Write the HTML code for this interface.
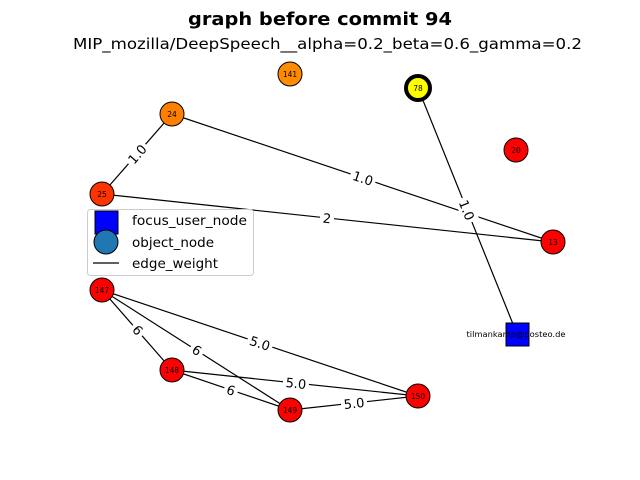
<!DOCTYPE html>
<html><head><style>body{margin:0;background:#fff}svg{display:block}</style></head><body>
<svg width="640" height="480" xmlns="http://www.w3.org/2000/svg" font-family="DejaVu Sans, Liberation Sans, sans-serif">
<text x="320" y="25" text-anchor="middle" font-size="18" font-weight="bold" textLength="264" lengthAdjust="spacingAndGlyphs">graph before commit 94</text>
<text x="327.5" y="49" text-anchor="middle" font-size="15.5" textLength="509" lengthAdjust="spacingAndGlyphs">MIP_mozilla/DeepSpeech__alpha=0.2_beta=0.6_gamma=0.2</text>
<g stroke="#000" stroke-width="1.2">
<line x1="172" y1="114" x2="102" y2="194"/>
<line x1="172" y1="114" x2="553" y2="242"/>
<line x1="102" y1="194" x2="553" y2="242"/>
<line x1="418" y1="88" x2="517" y2="334"/>
<line x1="102" y1="290" x2="418" y2="396"/>
<line x1="102" y1="290" x2="172" y2="370"/>
<line x1="102" y1="290" x2="290" y2="410"/>
<line x1="172" y1="370" x2="418" y2="396"/>
<line x1="172" y1="370" x2="290" y2="410"/>
<line x1="290" y1="410" x2="418" y2="396"/>
</g>
<g font-size="13" text-anchor="middle">
<g transform="translate(137,154) rotate(-48.8)"><rect x="-13" y="-8" width="26" height="16" fill="#fff"/><text y="5">1.0</text></g>
<g transform="translate(363,178) rotate(18.6)"><rect x="-13" y="-8" width="26" height="16" fill="#fff"/><text y="5">1.0</text></g>
<g transform="translate(327,218) rotate(6.1)"><rect x="-7" y="-8" width="14" height="16" fill="#fff"/><text y="5">2</text></g>
<g transform="translate(467,210) rotate(68)"><rect x="-13" y="-8" width="26" height="16" fill="#fff"/><text y="5">1.0</text></g>
<g transform="translate(260,343) rotate(18.5)"><rect x="-13" y="-8" width="26" height="16" fill="#fff"/><text y="5">5.0</text></g>
<g transform="translate(138,330) rotate(48.8)"><rect x="-7" y="-8" width="14" height="16" fill="#fff"/><text y="5">6</text></g>
<g transform="translate(197,350) rotate(32.5)"><rect x="-7" y="-8" width="14" height="16" fill="#fff"/><text y="5">6</text></g>
<g transform="translate(296,383) rotate(6)"><rect x="-13" y="-8" width="26" height="16" fill="#fff"/><text y="5">5.0</text></g>
<g transform="translate(231,390) rotate(18.7)"><rect x="-7" y="-8" width="14" height="16" fill="#fff"/><text y="5">6</text></g>
<g transform="translate(354,403) rotate(-6.2)"><rect x="-13" y="-8" width="26" height="16" fill="#fff"/><text y="5">5.0</text></g>
</g>
<g stroke="#000" stroke-width="1">
<circle cx="290" cy="74" r="12" fill="#ff8c00"/>
<circle cx="418" cy="88" r="12" fill="#ffff00" stroke-width="4"/>
<circle cx="172" cy="114" r="12" fill="#ff8000"/>
<circle cx="516" cy="150" r="12" fill="#ff0000"/>
<circle cx="102" cy="194" r="12" fill="#ff3300"/>
<circle cx="553" cy="242" r="12" fill="#ff0000"/>
<circle cx="102" cy="290" r="12" fill="#ff0000"/>
<circle cx="172" cy="370" r="12" fill="#ff0000"/>
<circle cx="290" cy="410" r="12" fill="#ff0000"/>
<circle cx="418" cy="396" r="12" fill="#ff0000"/>
<rect x="506" y="323" width="23" height="23" fill="#0000ff"/>
</g>
<g font-size="7.5" text-anchor="middle">
<text x="290" y="77">141</text><text x="418" y="91">78</text><text x="172" y="117">24</text>
<text x="516" y="153">20</text><text x="102" y="197">25</text><text x="553" y="245">13</text>
<text x="102" y="293">147</text><text x="172" y="373">148</text><text x="290" y="413">149</text>
<text x="418" y="399">150</text><text x="516" y="337" textLength="99" lengthAdjust="spacingAndGlyphs">tilmankamp@posteo.de</text>
</g>
<rect x="87.5" y="209.5" width="166" height="66" rx="3" fill="#fff" fill-opacity="0.8" stroke="#ccc"/>
<rect x="95" y="211" width="23" height="23" fill="#0000ff" stroke="#000"/>
<circle cx="106" cy="242" r="12" fill="#1f77b4" stroke="#000"/>
<line x1="93" y1="263" x2="119" y2="263" stroke="#000" stroke-width="1.2"/>
<g font-size="13.5"><text x="132" y="225" textLength="115" lengthAdjust="spacingAndGlyphs">focus_user_node</text><text x="132" y="247">object_node</text><text x="132" y="268">edge_weight</text></g>
</svg>
</body></html>
